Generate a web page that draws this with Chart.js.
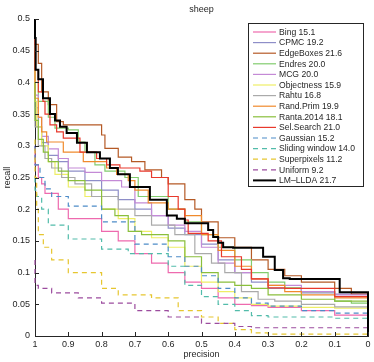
<!DOCTYPE html>
<html>
<head>
<meta charset="utf-8">
<script src="https://cdn.jsdelivr.net/npm/chart.js@4"></script>
<style>
html, body { margin: 0; padding: 0; background: #fff; }
</style>
</head>
<body>
<canvas id="myChart" width="374" height="362"></canvas>
<script>
"use strict";

const ctx = document.getElementById('myChart');

// legend labels, AP in the name
const methods = ['Bing 15.1', 'CPMC 19.2', 'EdgeBoxes 21.6', 'Endres 20.0', 'MCG 20.0',
  'Objectness 15.9', 'Rahtu 16.8', 'Rand.Prim 19.9', 'Ranta.2014 18.1', 'Sel.Search 21.0',
  'Gaussian 15.2', 'Sliding window 14.0', 'Superpixels 11.2', 'Uniform 9.2', 'LM\u2013LLDA 21.7'];

const colors = ['#ee6aae', '#8e8ec8', '#b55a26', '#82cc6e', '#c48ad6',
  '#eeee66', '#aaaaaa', '#f08a2c', '#8abf3c', '#e8392c',
  '#4d8cc8', '#52bcaa', '#e6c630', '#9c4c9e', '#000000'];

const dashed = [false, false, false, false, false, false, false, false, false, false,
  true, true, true, true, false];

// [precision, recall]
const bing = [[1,0.3],[0.99,0.27],[0.98,0.25],[0.97,0.24],[0.93,0.225],[0.9,0.2],[0.8,0.185],[0.75,0.165],
  [0.7,0.15],[0.65,0.13],[0.6,0.115],[0.55,0.1],[0.5,0.085],[0.45,0.075],[0.4,0.06],[0.35,0.05],
  [0.3,0.048],[0.2,0.045],[0.1,0.04],[0,0.033]];
const cpmc = [[1,0.42],[0.99,0.36],[0.98,0.33],[0.96,0.305],[0.93,0.285],[0.9,0.275],[0.85,0.26],[0.8,0.245],
  [0.75,0.23],[0.7,0.215],[0.65,0.2],[0.6,0.19],[0.55,0.17],[0.5,0.16],[0.45,0.145],[0.4,0.12],
  [0.35,0.1],[0.3,0.085],[0.2,0.075],[0.1,0.068],[0,0.066]];
const edgeBoxes = [[1,0.5],[0.99,0.46],[0.98,0.43],[0.96,0.385],[0.935,0.365],[0.915,0.338],[0.8,0.333],
  [0.79,0.317],[0.75,0.296],[0.71,0.282],[0.67,0.275],[0.62,0.262],[0.6,0.25],[0.55,0.24],[0.52,0.215],
  [0.5,0.2],[0.45,0.18],[0.4,0.155],[0.35,0.14],[0.3,0.12],[0.25,0.105],[0.2,0.095],[0.1,0.085],
  [0.05,0.075],[0,0.066]];
const endres = [[1,0.46],[0.99,0.4],[0.96,0.37],[0.94,0.345],[0.9,0.328],[0.87,0.325],[0.85,0.306],
  [0.82,0.29],[0.79,0.27],[0.73,0.26],[0.69,0.25],[0.6,0.22],[0.55,0.2],[0.5,0.18],[0.45,0.16],
  [0.4,0.14],[0.35,0.12],[0.3,0.1],[0.25,0.085],[0.2,0.076],[0.1,0.07],[0.05,0.055],[0,0.052]];
const mcg = [[1,0.42],[0.99,0.38],[0.98,0.345],[0.96,0.315],[0.93,0.295],[0.9,0.28],[0.85,0.265],
  [0.8,0.258],[0.74,0.245],[0.7,0.235],[0.65,0.21],[0.6,0.19],[0.55,0.175],[0.5,0.165],[0.45,0.14],
  [0.4,0.115],[0.35,0.1],[0.3,0.09],[0.2,0.08],[0.1,0.07],[0,0.065]];
const objectness = [[1,0.42],[0.995,0.37],[0.98,0.33],[0.96,0.3],[0.94,0.275],[0.9,0.255],[0.85,0.235],
  [0.8,0.22],[0.75,0.2],[0.7,0.185],[0.65,0.165],[0.6,0.155],[0.55,0.14],[0.5,0.11],[0.45,0.085],
  [0.4,0.07],[0.35,0.06],[0.3,0.05],[0.2,0.047],[0.1,0.045],[0,0.044]];
const rahtu = [[1,0.36],[0.99,0.33],[0.97,0.3],[0.95,0.28],[0.92,0.265],[0.88,0.25],[0.83,0.24],
  [0.75,0.22],[0.7,0.2],[0.65,0.19],[0.58,0.175],[0.52,0.16],[0.47,0.13],[0.43,0.115],[0.38,0.1],
  [0.33,0.07],[0.28,0.058],[0.2,0.055],[0.1,0.05],[0,0.046]];
const randPrim = [[1,0.45],[0.99,0.375],[0.98,0.345],[0.965,0.322],[0.915,0.306],[0.855,0.29],
  [0.785,0.275],[0.755,0.265],[0.72,0.255],[0.7,0.245],[0.66,0.23],[0.6,0.21],[0.55,0.2],[0.5,0.19],
  [0.45,0.16],[0.4,0.135],[0.35,0.11],[0.3,0.09],[0.25,0.08],[0.2,0.07],[0.1,0.065],[0,0.06]];
const ranta = [[1,0.4],[0.99,0.34],[0.975,0.31],[0.96,0.29],[0.93,0.275],[0.9,0.26],[0.85,0.245],
  [0.8,0.23],[0.76,0.2],[0.72,0.19],[0.68,0.165],[0.6,0.16],[0.55,0.15],[0.5,0.125],[0.45,0.1],
  [0.4,0.085],[0.35,0.08],[0.3,0.075],[0.2,0.065],[0.1,0.058],[0,0.055]];
const selSearch = [[1,0.48],[0.99,0.42],[0.976,0.385],[0.97,0.37],[0.955,0.35],[0.935,0.333],
  [0.915,0.322],[0.865,0.312],[0.815,0.29],[0.785,0.28],[0.745,0.27],[0.685,0.265],[0.65,0.26],
  [0.6,0.25],[0.57,0.22],[0.55,0.2],[0.54,0.183],[0.48,0.162],[0.44,0.15],[0.38,0.125],[0.35,0.105],
  [0.3,0.09],[0.25,0.076],[0.1,0.075],[0.07,0.062],[0,0.062]];
const gaussian = [[1,0.3],[0.985,0.27],[0.97,0.25],[0.95,0.232],[0.9,0.22],[0.8,0.205],[0.7,0.18],
  [0.6,0.145],[0.55,0.125],[0.5,0.11],[0.45,0.095],[0.4,0.075],[0.35,0.06],[0.3,0.052],[0.2,0.047],
  [0.1,0.04],[0,0.036]];
const sliding = [[1,0.25],[0.995,0.23],[0.98,0.22],[0.96,0.2],[0.9,0.175],[0.8,0.153],[0.72,0.137],
  [0.6,0.13],[0.55,0.11],[0.5,0.08],[0.45,0.062],[0.4,0.05],[0.35,0.04],[0.3,0.032],[0.1,0.03],[0,0.028]];
const superpixels = [[1,0.31],[0.995,0.25],[0.99,0.2],[0.975,0.16],[0.95,0.14],[0.9,0.12],[0.8,0.1],
  [0.75,0.075],[0.65,0.065],[0.57,0.06],[0.5,0.04],[0.45,0.03],[0.4,0.02],[0.35,0.01],[0.3,0.005],[0,0.003]];
const uniform = [[1,0.12],[0.99,0.08],[0.95,0.075],[0.87,0.068],[0.8,0.06],[0.7,0.052],[0.6,0.04],
  [0.5,0.03],[0.4,0.02],[0.35,0.015],[0,0.013]];
const lmLlda = [[1,0.5],[0.998,0.47],[0.99,0.42],[0.976,0.405],[0.955,0.375],[0.94,0.35],[0.925,0.34],
  [0.905,0.33],[0.874,0.32],[0.844,0.305],[0.805,0.29],[0.775,0.28],[0.751,0.265],[0.715,0.255],
  [0.655,0.235],[0.604,0.215],[0.574,0.19],[0.55,0.185],[0.48,0.178],[0.465,0.167],[0.45,0.156],
  [0.435,0.147],[0.405,0.14],[0.315,0.139],[0.28,0.125],[0.255,0.104],[0.235,0.091],[0.085,0.09],
  [0.055,0.069],[0,0.069],[0,0]];

const series = [bing, cpmc, edgeBoxes, endres, mcg, objectness, rahtu, randPrim, ranta, selSearch,
  gaussian, sliding, superpixels, uniform, lmLlda];

const xTicks = [0, 0.1, 0.2, 0.3, 0.4, 0.5, 0.6, 0.7, 0.8, 0.9, 1];
const yTicks = [0, 0.05, 0.1, 0.15, 0.2, 0.25, 0.3, 0.35, 0.4, 0.45, 0.5];

const FONT = 'Liberation Sans, Arial, Helvetica, sans-serif';

const datasets = series.map((pts, i) => ({
  label: methods[i],
  data: pts.map(p => ({ x: p[0], y: p[1] })),
  borderColor: colors[i],
  borderWidth: i === 14 ? 2 : 1.2,
  borderDash: dashed[i] ? [5, 4] : [],
  pointRadius: 0,
  stepped: 'after',
  fill: false,
  clip: 3,
  order: -i
}));

// inward ticks, title and the boxed legend
const extras = {
  id: 'extras',
  afterDraw(chart) {
    const c = chart.ctx;
    const a = chart.chartArea;
    const xs = chart.scales.x;
    const ys = chart.scales.y;
    c.save();
    c.strokeStyle = '#262626';
    c.lineWidth = 1;
    c.beginPath();
    xTicks.forEach(v => {
      const px = Math.round(xs.getPixelForValue(v)) + 0.5;
      c.moveTo(px, a.bottom);
      c.lineTo(px, a.bottom - 4);
    });
    yTicks.forEach(v => {
      const py = Math.round(ys.getPixelForValue(v)) + 0.5;
      c.moveTo(a.left, py);
      c.lineTo(a.left + 4, py);
    });
    c.stroke();

    c.fillStyle = '#262626';
    c.font = '9px ' + FONT;
    c.textAlign = 'center';
    c.textBaseline = 'middle';
    c.fillText('sheep', (a.left + a.right) / 2, 10);

    // legend
    const lx = 248.5, ly = 23.5, lw = 115, lh = 163;
    c.fillStyle = '#fff';
    c.fillRect(lx, ly, lw, lh);
    c.strokeStyle = '#262626';
    c.strokeRect(lx, ly, lw, lh);
    c.font = '8.6px ' + FONT;
    c.textAlign = 'left';
    chart.data.datasets.forEach((ds, i) => {
      const y = 32 + i * 10.6;
      c.beginPath();
      c.strokeStyle = ds.borderColor;
      c.lineWidth = ds.borderWidth;
      c.setLineDash(ds.borderDash);
      c.moveTo(253, y);
      c.lineTo(276, y);
      c.stroke();
      c.setLineDash([]);
      c.fillStyle = '#262626';
      c.fillText(ds.label, 279, y + 0.5);
    });
    c.restore();
  }
};

new Chart(ctx, {
  type: 'line',
  data: { datasets: datasets },
  options: {
    responsive: false,
    animation: false,
    layout: { padding: { top: 19, right: 6, left: 0, bottom: 0 } },
    plugins: {
      legend: { display: false },
      tooltip: { enabled: false },
      title: { display: false }
    },
    scales: {
      x: {
        type: 'linear',
        reverse: true,
        min: 0,
        max: 1,
        afterFit: s => { s.height = 26; },
        afterBuildTicks: s => { s.ticks = xTicks.map(v => ({ value: v })); },
        ticks: { font: { size: 9, family: FONT }, color: '#262626', padding: 3, maxRotation: 0,
          callback: v => String(Math.round(v * 10) / 10) },
        grid: { display: false, drawTicks: false },
        border: { display: true, color: '#262626', width: 1 },
        title: { display: true, text: 'precision', font: { size: 9, family: FONT }, color: '#262626',
          padding: { top: 0, bottom: 2 } }
      },
      y: {
        type: 'linear',
        min: 0,
        max: 0.5,
        afterFit: s => { s.width = 35; },
        afterBuildTicks: s => { s.ticks = yTicks.map(v => ({ value: v })); },
        ticks: { font: { size: 9, family: FONT }, color: '#262626', padding: 5,
          callback: v => String(Math.round(v * 100) / 100) },
        grid: { display: false, drawTicks: false },
        border: { display: true, color: '#262626', width: 1 },
        title: { display: true, text: 'recall', font: { size: 9, family: FONT }, color: '#262626',
          padding: { top: 2, bottom: 0 } }
      }
    }
  },
  plugins: [extras]
});
</script>
</body>
</html>
